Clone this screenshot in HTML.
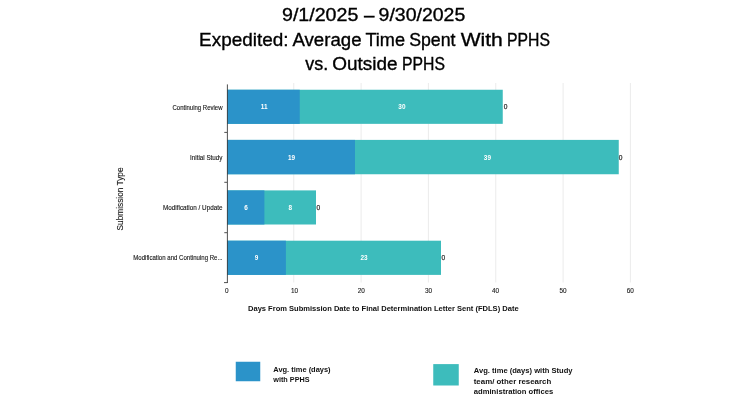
<!DOCTYPE html>
<html lang="en">
<head>
<meta charset="utf-8">
<title>Expedited: Average Time Spent With PPHS vs. Outside PPHS</title>
<style>
  html, body { margin: 0; padding: 0; background: #ffffff; }
  body { width: 750px; height: 400px; overflow: hidden; }
  svg { display: block; font-family: "Liberation Sans", sans-serif; }
  .title { font-size: 17.5px; fill: #000000; stroke: #000000; stroke-width: 0.35px; vector-effect: non-scaling-stroke; }
  .title text { vector-effect: non-scaling-stroke; }
  .cat { font-size: 6.7px; fill: #161616; stroke: #161616; stroke-width: 0.12px; }
  .tick { font-size: 6.4px; fill: #222222; stroke: #222222; stroke-width: 0.12px; }
  .val { font-size: 6.4px; fill: #ffffff; font-weight: bold; }
  .zero { font-size: 6.6px; fill: #333333; stroke: #333333; stroke-width: 0.25px; }
  .axt { font-size: 7.6px; fill: #111111; font-weight: bold; }
  .ylab { font-size: 8.4px; fill: #161616; stroke: #161616; stroke-width: 0.12px; }
  .leg { font-size: 7.5px; fill: #111111; font-weight: bold; }
</style>
</head>
<body>
<svg width="750" height="400" viewBox="0 0 750 400">
  <rect x="0" y="0" width="750" height="400" fill="#ffffff"/>

  <!-- title -->
  <g class="title">
    <text transform="translate(282.00 21.3) scale(1.1216 1)">9/1/2025</text>
    <text transform="translate(364.00 21.3) scale(1.0714 1)">–</text>
    <text transform="translate(378.61 21.3) scale(1.1139 1)">9/30/2025</text>
    <text transform="translate(199.09 45.7) scale(1.0816 1)">Expedited:</text>
    <text transform="translate(292.39 45.7) scale(1.0664 1)">Average</text>
    <text transform="translate(365.44 45.7) scale(1.0349 1)">Time</text>
    <text transform="translate(409.19 45.7) scale(1.0134 1)">Spent</text>
    <text transform="translate(460.63 45.7) scale(1.2056 1)">With</text>
    <text transform="translate(506.99 45.7) scale(0.9011 1)">PPHS</text>
    <text transform="translate(305.30 70.2) scale(1.0242 1)">vs.</text>
    <text transform="translate(332.23 70.2) scale(1.0825 1)">Outside</text>
    <text transform="translate(401.99 70.2) scale(0.9011 1)">PPHS</text>
  </g>

  <!-- gridlines -->
  <g stroke="#ebebeb" stroke-width="1">
    <line x1="293.75" y1="83" x2="293.75" y2="282.5"/>
    <line x1="361.1" y1="83" x2="361.1" y2="282.5"/>
    <line x1="428.4" y1="83" x2="428.4" y2="282.5"/>
    <line x1="495.75" y1="83" x2="495.75" y2="282.5"/>
    <line x1="563.1" y1="83" x2="563.1" y2="282.5"/>
    <line x1="630.4" y1="83" x2="630.4" y2="282.5"/>
  </g>

  <!-- bars -->
  <g>
    <rect x="227" y="89.75" width="275.75" height="34.1" fill="#3dbcbc"/>
    <rect x="227" y="89.75" width="72.75" height="34.1" fill="#2b93c9"/>
    <rect x="227" y="139.9" width="391.75" height="34.35" fill="#3dbcbc"/>
    <rect x="227" y="139.9" width="128" height="34.35" fill="#2b93c9"/>
    <rect x="227" y="190.4" width="89" height="34.1" fill="#3dbcbc"/>
    <rect x="227" y="190.4" width="37.4" height="34.1" fill="#2b93c9"/>
    <rect x="227" y="240.7" width="214" height="34.2" fill="#3dbcbc"/>
    <rect x="227" y="240.7" width="58.9" height="34.2" fill="#2b93c9"/>
  </g>

  <!-- y axis line + ticks -->
  <g stroke="#3c3c3c" stroke-width="0.9" fill="none">
    <line x1="227.4" y1="84.4" x2="227.4" y2="283"/>
    <line x1="224.3" y1="132.4" x2="227" y2="132.4"/>
    <line x1="224.3" y1="182.3" x2="227" y2="182.3"/>
    <line x1="224.3" y1="232.7" x2="227" y2="232.7"/>
    <line x1="224" y1="282.6" x2="227.5" y2="282.6"/>
  </g>

  <!-- category labels -->
  <g class="cat" text-anchor="end" transform="translate(0.5 0.35)">
    <text x="222" y="109.2" textLength="50" lengthAdjust="spacingAndGlyphs">Continuing Review</text>
    <text x="222" y="159.3" textLength="32.5" lengthAdjust="spacingAndGlyphs">Initial Study</text>
    <text x="222" y="209.8" textLength="59.5" lengthAdjust="spacingAndGlyphs">Modification / Update</text>
    <text x="222" y="260.1" textLength="89.2" lengthAdjust="spacingAndGlyphs">Modification and Continuing Re...</text>
  </g>

  <!-- value labels -->
  <g class="val" text-anchor="middle" transform="translate(0 0.35)">
    <text x="264.15" y="109.15">11</text>
    <text x="401.90" y="109.15">30</text>
    <text x="291.60" y="159.35">19</text>
    <text x="487.40" y="159.35">39</text>
    <text x="246.00" y="209.75">6</text>
    <text x="290.40" y="209.75">8</text>
    <text x="256.65" y="260.05">9</text>
    <text x="364.00" y="260.05">23</text>
  </g>
  <g class="zero" text-anchor="middle" transform="translate(0 0.35)">
    <text x="505.60" y="109.15">0</text>
    <text x="620.60" y="159.35">0</text>
    <text x="318.30" y="209.75">0</text>
    <text x="443.40" y="260.05">0</text>
  </g>

  <!-- x tick labels -->
  <g class="tick" text-anchor="middle">
    <text x="226.7" y="292.8">0</text>
    <text x="294.5" y="292.8">10</text>
    <text x="361.3" y="292.8">20</text>
    <text x="428.6" y="292.8">30</text>
    <text x="495.6" y="292.8">40</text>
    <text x="563.1" y="292.8">50</text>
    <text x="630.2" y="292.8">60</text>
  </g>

  <!-- axis titles -->
  <text class="axt" x="248" y="310.9" textLength="270.6" lengthAdjust="spacingAndGlyphs">Days From Submission Date to Final Determination Letter Sent (FDLS) Date</text>
  <text class="ylab" transform="translate(122.5 230.5) rotate(-90)" textLength="63" lengthAdjust="spacingAndGlyphs">Submission Type</text>

  <!-- legend -->
  <rect x="235.75" y="361.75" width="24.5" height="19.5" fill="#2b93c9"/>
  <g class="leg">
    <text x="273.3" y="371.7" textLength="57.3" lengthAdjust="spacingAndGlyphs">Avg. time (days)</text>
    <text x="273.3" y="381.5" textLength="36.3" lengthAdjust="spacingAndGlyphs">with PPHS</text>
  </g>
  <rect x="433.25" y="364.1" width="25.5" height="21.4" fill="#3dbcbc"/>
  <g class="leg">
    <text x="473.75" y="373" textLength="98.75" lengthAdjust="spacingAndGlyphs">Avg. time (days) with Study</text>
    <text x="473.75" y="383.5" textLength="77.5" lengthAdjust="spacingAndGlyphs">team/ other research</text>
    <text x="473.75" y="394" textLength="79.5" lengthAdjust="spacingAndGlyphs">administration offices</text>
  </g>
</svg>
</body>
</html>
